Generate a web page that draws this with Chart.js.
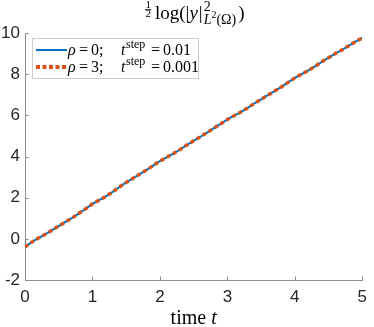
<!DOCTYPE html>
<html>
<head>
<meta charset="utf-8">
<script src="https://cdn.jsdelivr.net/npm/chart.js@4"></script>
<style>
html, body { margin: 0; padding: 0; background: #fff; }
#wrap { width: 374px; height: 327px; }
</style>
</head>
<body>
<div id="wrap"><canvas id="chart" width="374" height="327"></canvas></div>
<script>
// time axis samples
const timeValues = [
    0.0, 0.1, 0.2, 0.3, 0.4, 0.5, 0.6, 0.7, 0.8, 0.9,
    1.0, 1.1, 1.2, 1.3, 1.4, 1.5, 1.6, 1.7, 1.8, 1.9,
    2.0, 2.1, 2.2, 2.3, 2.4, 2.5, 2.6, 2.7, 2.8, 2.9,
    3.0, 3.1, 3.2, 3.3, 3.4, 3.5, 3.6, 3.7, 3.8, 3.9,
    4.0, 4.1, 4.2, 4.3, 4.4, 4.5, 4.6, 4.7, 4.8, 4.9,
    5.0
];
// rho = 0, tstep = 0.01
const rho0Values = [
    -0.40, -0.16, 0.04, 0.22, 0.42, 0.62, 0.82, 1.02, 1.24, 1.46,
    1.70, 1.88, 2.06, 2.28, 2.52, 2.74, 2.94, 3.14, 3.34, 3.56,
    3.78, 3.96, 4.14, 4.34, 4.56, 4.76, 4.96, 5.16, 5.38, 5.58,
    5.80, 5.98, 6.16, 6.36, 6.58, 6.78, 6.98, 7.18, 7.38, 7.60,
    7.82, 8.00, 8.18, 8.38, 8.60, 8.80, 9.00, 9.18, 9.38, 9.58,
    9.76
];
// rho = 3, tstep = 0.001
const rho3Values = [
    -0.40, -0.16, 0.04, 0.22, 0.42, 0.62, 0.82, 1.02, 1.24, 1.46,
    1.70, 1.88, 2.06, 2.28, 2.52, 2.74, 2.94, 3.14, 3.34, 3.56,
    3.78, 3.96, 4.14, 4.34, 4.56, 4.76, 4.96, 5.16, 5.38, 5.58,
    5.80, 5.98, 6.16, 6.36, 6.58, 6.78, 6.98, 7.18, 7.38, 7.60,
    7.82, 8.00, 8.18, 8.38, 8.60, 8.80, 9.00, 9.18, 9.38, 9.58,
    9.76
];
const xTicks = [0, 1, 2, 3, 4, 5];
const yTicks = [-2, 0, 2, 4, 6, 8, 10];
const legendRho = ['0', '3'];
const legendStep = ['0.01', '0.001'];

const BLUE = '#0072bd';
const ORANGE = '#d95319';
const INK = '#262626';
const AXIS = '#8c8c8c';
const SERIF = '"Liberation Serif"';

function put(ctx, text, font, x, y, draw) {
    ctx.font = font;
    if (draw) ctx.fillText(text, x, y);
    return ctx.measureText(text).width;
}

// 1/2 log(|y|^2_{L^2(Omega)})
function titleRun(ctx, x, draw) {
    const base = 19;
    const big = '19px ' + SERIF;
    const bigIt = 'italic 19px ' + SERIF;
    const sm = '14px ' + SERIF;
    const smIt = 'italic 14px ' + SERIF;
    const tiny = '10px ' + SERIF;
    let cx = 0;
    ctx.font = '11px ' + SERIF;
    let fw = ctx.measureText('2').width;
    if (draw) {
        ctx.fillText('1', x, 8);
        ctx.fillText('2', x, 17);
        ctx.fillRect(x - 0.5, 9.3, fw + 1, 0.9);
    }
    cx += fw + 4;
    cx += put(ctx, 'log(|', big, x + cx, base, draw);
    cx += put(ctx, 'y', bigIt, x + cx, base, draw) + 1;
    cx += put(ctx, '|', big, x + cx, base, draw);
    let supW = put(ctx, '2', sm, x + cx + 1, base - 8, draw);
    let subW = put(ctx, 'L', smIt, x + cx + 1, base + 5, draw);
    subW += put(ctx, '2', tiny, x + cx + 1 + subW, base - 1, draw);
    subW += put(ctx, '(Ω)', sm, x + cx + 1 + subW, base + 5, draw);
    cx += Math.max(supW, subW) + 3;
    cx += put(ctx, ')', big, x + cx, base, draw);
    return cx;
}

const matlabBits = {
    id: 'matlabBits',
    afterDatasetsDraw(chart) {
        let ctx = chart.ctx;
        let a = chart.chartArea;
        let sx = chart.scales.x;
        let sy = chart.scales.y;
        ctx.save();

        // inward ticks
        ctx.strokeStyle = AXIS;
        ctx.lineWidth = 1;
        ctx.beginPath();
        xTicks.forEach(v => {
            let px = Math.round(sx.getPixelForValue(v)) + 0.5;
            ctx.moveTo(px, a.bottom);
            ctx.lineTo(px, a.bottom - 3.5);
        });
        yTicks.forEach(v => {
            let py = Math.round(sy.getPixelForValue(v)) + 0.5;
            ctx.moveTo(a.left, py);
            ctx.lineTo(a.left + 3.5, py);
        });
        ctx.stroke();

        ctx.fillStyle = '#000';
        ctx.textAlign = 'left';
        ctx.textBaseline = 'alphabetic';

        // title
        let w = titleRun(ctx, 0, false);
        titleRun(ctx, 195 - w / 2, true);

        // x axis label
        let w1 = put(ctx, 'time ', '20px ' + SERIF, 0, 0, false);
        let w2 = put(ctx, 't', 'italic 20px ' + SERIF, 0, 0, false);
        let lx = (a.left + a.right) / 2 - (w1 + w2) / 2;
        put(ctx, 'time ', '20px ' + SERIF, lx, 324, true);
        put(ctx, 't', 'italic 20px ' + SERIF, lx + w1, 324, true);

        // legend
        ctx.fillStyle = '#fff';
        ctx.fillRect(32.5, 38.5, 166, 40);
        ctx.strokeStyle = '#cccccc';
        ctx.lineWidth = 1;
        ctx.strokeRect(32.5, 38.5, 166, 40);
        let rows = [50, 67];
        for (let i = 0; i < 2; i++) {
            let y = rows[i];
            ctx.beginPath();
            if (i === 0) {
                ctx.strokeStyle = BLUE;
                ctx.lineWidth = 2;
                ctx.setLineDash([]);
            } else {
                ctx.strokeStyle = ORANGE;
                ctx.lineWidth = 4;
                ctx.setLineDash([4, 2.5]);
            }
            ctx.moveTo(36, y);
            ctx.lineTo(67, y);
            ctx.stroke();
            ctx.setLineDash([]);
            ctx.fillStyle = '#000';
            let b = y + 5;
            put(ctx, 'ρ', 'italic 16px ' + SERIF, 68, b, true);
            put(ctx, '=', '16px ' + SERIF, 79, b, true);
            put(ctx, legendRho[i] + ';', '16px ' + SERIF, 91, b, true);
            put(ctx, 't', 'italic 16px ' + SERIF, 121, b, true);
            put(ctx, 'step', '12px ' + SERIF, 126, b - 7, true);
            put(ctx, '=', '16px ' + SERIF, 151, b, true);
            put(ctx, legendStep[i], '16px ' + SERIF, 163, b, true);
        }
        ctx.restore();
    }
};

new Chart(document.getElementById('chart'), {
    type: 'line',
    data: {
        datasets: [{
            label: 'rho = 0; tstep = 0.01',
            data: rho0Values.map((v, i) => ({ x: timeValues[i], y: v })),
            borderColor: BLUE,
            borderWidth: 2,
            pointRadius: 0,
            tension: 0,
            order: 2
        }, {
            label: 'rho = 3; tstep = 0.001',
            data: rho3Values.map((v, i) => ({ x: timeValues[i], y: v })),
            borderColor: ORANGE,
            borderWidth: 3.5,
            borderDash: [4, 3],
            pointRadius: 0,
            tension: 0,
            order: 1
        }]
    },
    options: {
        responsive: false,
        animation: false,
        layout: { padding: { top: 33, right: 5, left: 0, bottom: 0 } },
        plugins: {
            legend: { display: false },
            title: { display: false },
            tooltip: { enabled: false }
        },
        scales: {
            x: {
                type: 'linear',
                min: 0,
                max: 5,
                afterFit: s => { s.height = 47; },
                afterBuildTicks: s => { s.ticks = xTicks.map(v => ({ value: v })); },
                grid: { drawOnChartArea: false, drawTicks: false },
                border: { color: AXIS, width: 1 },
                ticks: {
                    font: { family: 'Liberation Sans', size: 17 },
                    color: INK,
                    padding: 7,
                    maxRotation: 0
                }
            },
            y: {
                type: 'linear',
                min: -2,
                max: 10,
                afterFit: s => { s.width = 25; },
                afterBuildTicks: s => { s.ticks = yTicks.map(v => ({ value: v })); },
                grid: { drawOnChartArea: false, drawTicks: false },
                border: { color: AXIS, width: 1 },
                ticks: {
                    font: { family: 'Liberation Sans', size: 17 },
                    color: INK,
                    padding: 5
                }
            }
        }
    },
    plugins: [matlabBits]
});
</script>
</body>
</html>
